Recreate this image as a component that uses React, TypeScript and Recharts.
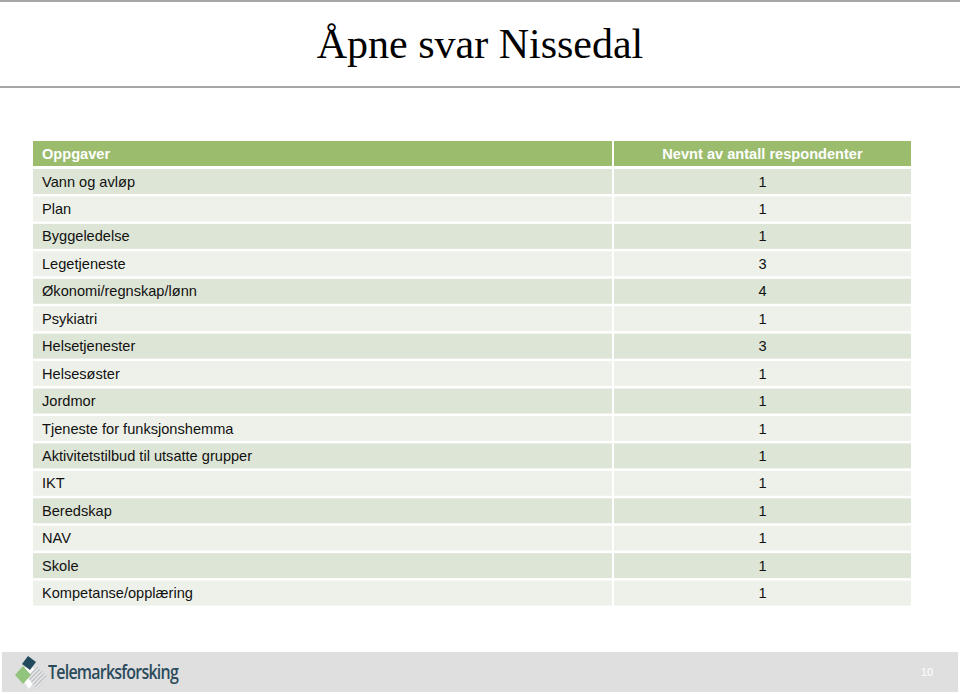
import React from 'react'
import { BarChart, Bar, XAxis, YAxis } from 'recharts'

const title = 'Åpne svar Nissedal'
const headerLeft = 'Oppgaver'
const headerRight = 'Nevnt av antall respondenter'

const tasks = [
  'Vann og avløp',
  'Plan',
  'Byggeledelse',
  'Legetjeneste',
  'Økonomi/regnskap/lønn',
  'Psykiatri',
  'Helsetjenester',
  'Helsesøster',
  'Jordmor',
  'Tjeneste for funksjonshemma',
  'Aktivitetstilbud til utsatte grupper',
  'IKT',
  'Beredskap',
  'NAV',
  'Skole',
  'Kompetanse/opplæring'
]
const counts = [1, 1, 1, 3, 4, 1, 3, 1, 1, 1, 1, 1, 1, 1, 1, 1]

const data = tasks.map((name, i) => ({ name, count: counts[i] }))

const TABLE_W = 878
const LEFT_W = 579
const GAP = 2
const font = '"Liberation Sans", Arial, sans-serif'

// each bar is drawn as one full table row; its band comes from the category scale
function RowShape(props: any) {
  const { y, height, index, payload } = props
  const fill = index % 2 === 0 ? '#dde5d6' : '#eef1ea'
  const cy = y + height / 2
  const rightX = LEFT_W + GAP
  const rightW = TABLE_W - rightX
  return (
    <g>
      <rect x={0} y={y} width={LEFT_W} height={height} fill={fill} />
      <rect x={rightX} y={y} width={rightW} height={height} fill={fill} />
      <text x={9} y={cy} dy="0.35em" fontSize={14.6} fontFamily={font} fill="#111">
        {payload.name}
      </text>
      <text x={rightX + rightW / 2} y={cy} dy="0.35em" fontSize={14.6} fontFamily={font} fill="#111" textAnchor="middle">
        {payload.count}
      </text>
    </g>
  )
}

function Logo() {
  return (
    <svg width={40} height={38} style={{ position: 'absolute', left: 12, top: 654 }}>
      <defs>
        <pattern id="hatch" width="3" height="3" patternUnits="userSpaceOnUse" patternTransform="rotate(45)">
          <rect width="3" height="3" fill="#e6e6e6" />
          <line x1="0" y1="0" x2="0" y2="3" stroke="#8a9aa3" strokeWidth="1.2" />
        </pattern>
      </defs>
      <polygon points="17,10 27,20 17,35 7,20" fill="#fff" />
      <polygon points="25,12 36,23 25,35 15,23" fill="url(#hatch)" />
      <polygon points="3,21 11,12 19,21 11,30" fill="#93c47d" />
      <polygon points="10,10 16,2 24,8 18,16" fill="#234a5c" />
    </svg>
  )
}

export default function App() {
  return (
    <div style={{ position: 'absolute', left: 0, top: 0, width: 960, height: 694, background: '#fff', overflow: 'hidden' }}>
      <div style={{ position: 'absolute', left: 0, top: 0, width: 960, height: 2, background: '#a6a6a6' }} />
      <div
        style={{
          position: 'absolute', left: 0, top: 18, width: 960, textAlign: 'center',
          fontFamily: '"Liberation Serif", "Times New Roman", serif', fontSize: 42, color: '#000', lineHeight: '52px'
        }}
      >
        {title}
      </div>
      <div style={{ position: 'absolute', left: 0, top: 86, width: 960, height: 2, background: '#a6a6a6' }} />

      <div style={{ position: 'absolute', left: 33, top: 141, width: TABLE_W, height: 25, fontFamily: font, fontSize: 14.6, fontWeight: 'bold', color: '#fff' }}>
        <div style={{ position: 'absolute', left: 0, top: 0, width: LEFT_W, height: 25, background: '#9bbb6d', lineHeight: '27px', paddingLeft: 9, boxSizing: 'border-box' }}>
          {headerLeft}
        </div>
        <div style={{ position: 'absolute', left: LEFT_W + GAP, top: 0, width: TABLE_W - LEFT_W - GAP, height: 25, background: '#9bbb6d', lineHeight: '27px', textAlign: 'center' }}>
          {headerRight}
        </div>
      </div>

      <div style={{ position: 'absolute', left: 33, top: 168 }}>
        <BarChart width={TABLE_W} height={439} data={data} layout="vertical" margin={{ top: 0, right: 0, bottom: 0, left: 0 }} barCategoryGap={1}>
          <XAxis type="number" hide />
          <YAxis type="category" dataKey="name" hide width={0} />
          <Bar dataKey="count" isAnimationActive={false} shape={RowShape} />
        </BarChart>
      </div>

      <div style={{ position: 'absolute', left: 2, top: 652, width: 956, height: 40, background: '#dfdfdf' }} />
      <Logo />
      <div
        style={{
          position: 'absolute', left: 48, top: 659, fontFamily: '"Open Sans", "DejaVu Sans", sans-serif', fontSize: 19,
          fontWeight: 600, color: '#2b4b5c', letterSpacing: -0.9, transform: 'scaleX(0.84)', transformOrigin: 'left center', lineHeight: '26px'
        }}
      >
        Telemarksforsking
      </div>
      <div style={{ position: 'absolute', left: 921, top: 666, fontFamily: font, fontSize: 11, color: '#fff' }}>10</div>
    </div>
  )
}
